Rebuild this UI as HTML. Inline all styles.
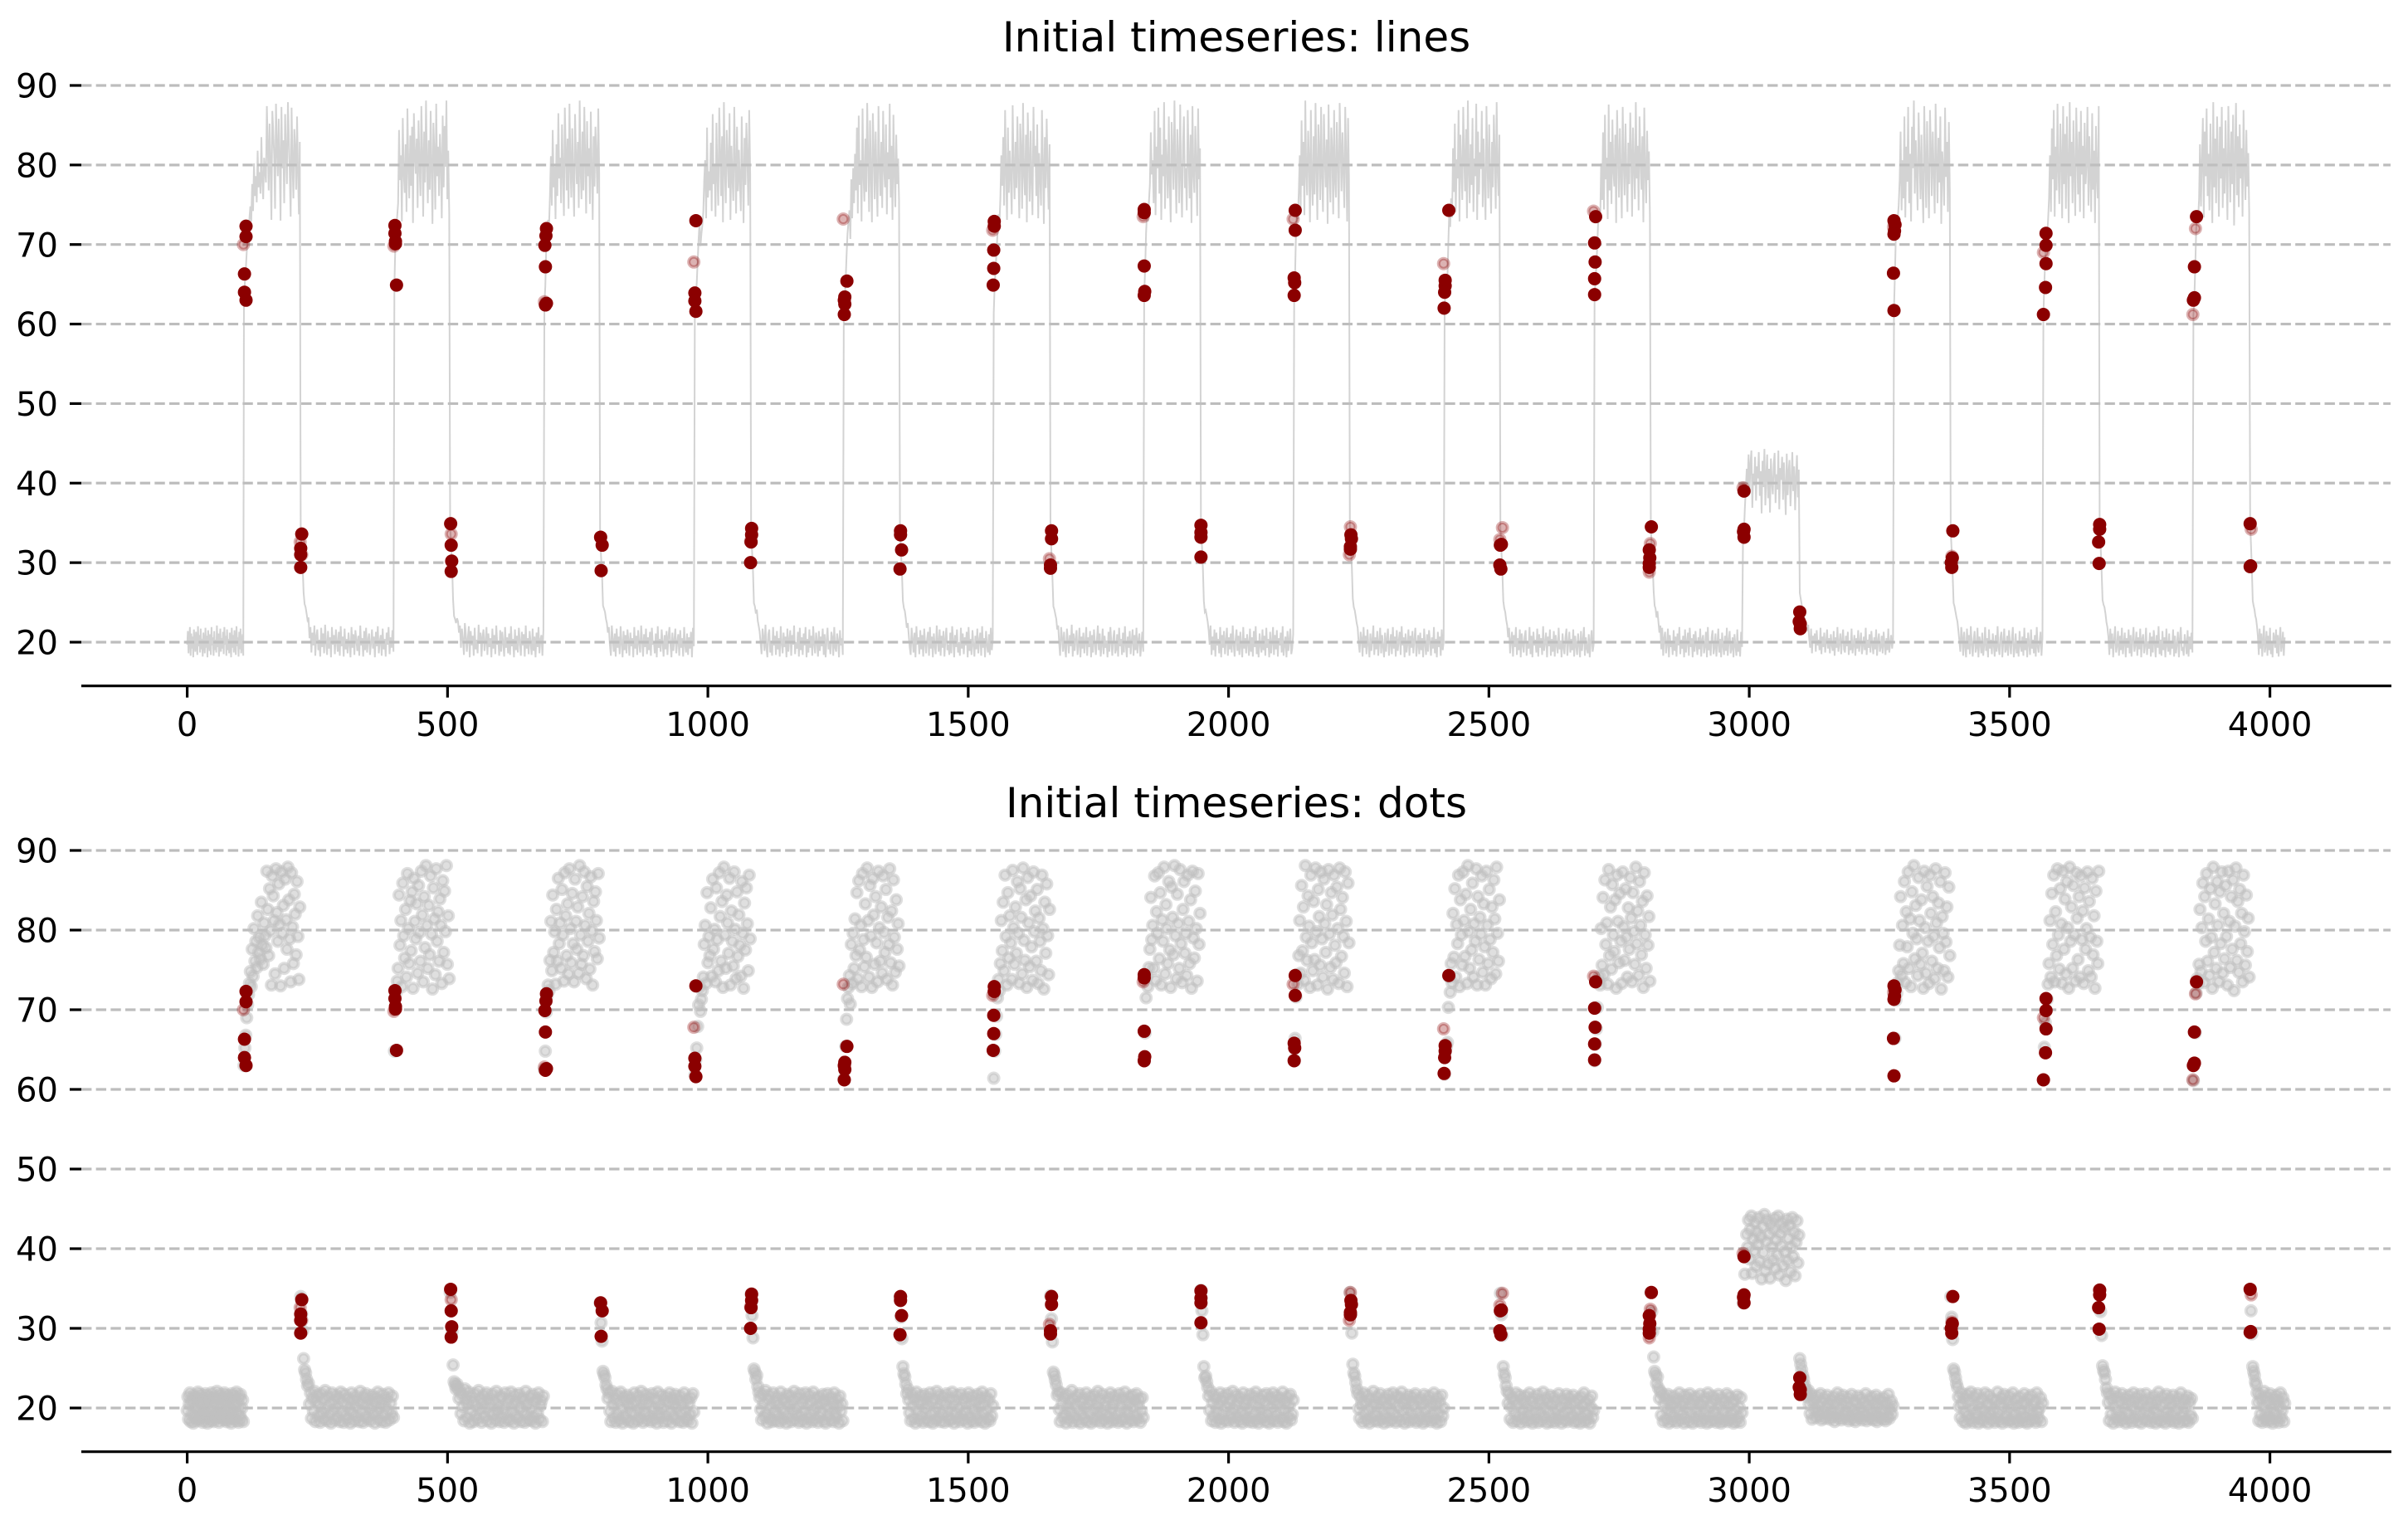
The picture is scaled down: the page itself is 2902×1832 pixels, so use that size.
<!DOCTYPE html>
<html lang="en">
<head>
<meta charset="utf-8">
<title>Initial timeseries</title>
<style>
html,body{margin:0;padding:0;background:#fff;}
svg{display:block;}
text{font-family:"DejaVu Sans","Liberation Sans",sans-serif;fill:#000;}
</style>
</head>
<body>
<svg id="chart" xmlns="http://www.w3.org/2000/svg" width="2902" height="1832" viewBox="0 0 2902 1832">
<rect x="0" y="0" width="2902" height="1832" fill="#ffffff"/>
<text x="1490" y="62" font-size="50" text-anchor="middle">Initial timeseries: lines</text>
<text x="1490" y="985" font-size="50" text-anchor="middle">Initial timeseries: dots</text>
<g id="panel-lines"></g>
<g id="panel-dots"></g>
</svg>
<script>
const xTickLabels=[0,500,1000,1500,2000,2500,3000,3500,4000];
const yTickLabels=[20,30,40,50,60,70,80,90];
const seriesEnd=4030;
const lowStarts=[0,218,505,793,1083,1369,1658,1947,2233,2522,2811,3097,3387,3673,3962];
const highStarts=[109,398,686,975,1261,1549,1838,2126,2415,2703,2988,3278,3565,3853];
/* sampled series values, stored in tenths of a unit */
const low0=[197,214,186,205,219,183,211,192,207,181,216,199,188,213,202,184,220,195,209,187,217,191,204,182,212,198,186,218,193,208,181,215,201,189,210,184,219,196,206,183,214,190,203,187,221,194,211,182,200,217,188,205,192,213,185,219,197,208,183,216,190,204,186,212,199,181,218,193,209,187,215,202,184,220,195,206,182,213,191,217,186,200,210,183];
const low1=[340,318,297,262,248,244,236,228,231,205,219,187,212,196,221,183,208,216,190,203,182,218,194,211,186,222,199,184,214,192,206,181,219,197,209,185,216,201,188,213,183,220,195,207,182,217,191,204,186,212,198,181,219,193,210,184,215,202,189,208,183,221,196,205,182,214,190,218,187,203,211,184,199,216,192,207,181,213,195,220,186,201,209,183,217,191,204,182,212,197,219,185,206,193,215,188];
const low2=[345,322,296,254,233,229,224,230,226,212,221,193,217,202,184,224,210,188,205,220,181,214,196,208,183,218,191,203,186,222,198,212,182,207,216,189,200,219,184,211,194,205,181,217,192,209,185,221,197,202,183,215,188,213,199,182,219,193,206,186,211,184,220,195,204,181,216,190,208,187,218,201,183,213,196,210,182,221,192,205,185,214,199,184,217,189,207,181,212,194,219,186,203,209,183,215];
const low3=[332,307,284,246,242,238,229,224,212,219,196,183,221,204,188,211,182,217,193,207,185,220,199,181,214,190,209,186,216,202,183,212,195,205,181,219,192,208,184,215,198,187,221,203,182,210,194,217,185,206,190,213,183,218,197,201,186,211,181,220,193,204,188,216,199,182,209,191,214,184,207,219,196,181,212,189,203,217,186,200,210,183,215,193,205,182,219,197,187,211,184,206,192,213,181,218,195];
const low4=[343,316,288,249,245,236,241,227,220,213,198,185,217,206,189,222,193,181,210,216,187,202,183,219,196,208,184,214,191,205,182,220,199,186,212,194,207,181,217,188,203,215,183,209,197,221,185,200,192,213,182,218,190,206,184,211,196,219,181,204,187,216,193,208,183,220,198,186,212,201,182,214,189,207,195,217,184,210,181,203,218,191,199,185,213,206,183,219,193,188,211,202,181,215,196,205,184];
const low5=[339,314,287,252,243,239,230,218,224,210,194,184,218,203,187,212,181,220,197,206,185,215,191,209,182,217,199,186,204,213,183,219,192,207,181,211,195,185,221,201,188,216,183,208,193,214,182,205,218,190,197,184,212,186,220,203,181,209,194,216,187,200,183,218,192,211,185,206,196,213,181,219,189,204,184,215,198,182,208,191,217,186,202,212,183,220,193,205,181,214,197,187,210,184,218,190,203];
const low6=[341,312,283,245,241,235,229,216,221,198,183,219,205,188,213,192,181,217,201,186,209,195,222,182,211,189,204,215,184,197,218,181,207,192,212,186,200,219,183,206,194,214,181,209,187,216,198,184,203,221,190,211,182,196,217,185,208,193,202,181,213,188,219,199,183,205,215,186,191,210,182,218,195,204,184,212,187,220,197,181,207,193,214,185,201,216,183,209,190,218,186,203,211,182,196,213,188];
const low7=[348,322,292,252,238,240,233,226,215,197,221,184,207,190,216,182,212,196,204,186,219,181,209,193,214,185,201,218,183,206,191,211,187,221,198,182,203,216,189,208,184,213,195,181,219,192,205,186,210,199,183,217,188,206,182,214,194,220,185,202,181,211,197,187,216,190,208,183,218,193,204,181,213,186,200,219,184,209,191,215,182,205,196,212,187,220,183,198,207,181,214,189,203,217,185,192,210];
const low8=[345,318,294,255,244,240,232,224,218,199,187,213,205,182,219,193,208,185,216,197,181,211,189,203,221,184,206,191,214,183,200,218,186,209,195,181,212,188,204,217,183,198,210,185,219,192,207,182,215,189,202,213,184,220,196,206,181,211,187,199,216,183,208,193,214,186,203,218,182,195,209,185,212,190,205,181,217,197,184,210,188,215,201,183,206,192,219,186,204,181,213,194,207,183,216,190,200];
const low9=[344,317,291,252,243,238,228,221,206,218,186,201,213,182,209,194,219,184,205,190,216,181,211,197,187,207,215,183,200,192,219,185,208,181,213,196,203,187,217,182,210,193,205,184,220,189,199,212,181,207,195,216,183,204,188,214,182,209,197,186,218,191,202,181,211,193,185,206,217,183,199,213,187,204,190,216,182,208,195,184,211,197,181,214,189,203,219,183,206,192,186,210,181,201,215,188,197];
const low10=[345,321,296,264,246,242,231,239,225,212,221,191,218,183,205,213,186,198,217,181,209,194,202,184,215,189,207,182,211,196,219,185,203,192,208,181,216,187,200,212,183,218,194,205,181,210,188,214,197,184,206,191,217,182,203,209,186,195,213,181,219,190,201,183,207,215,185,193,211,182,199,217,187,204,181,212,196,184,208,189,218,183,202,214,186,192,206,181,210,197,183,216,188,201,182,213,194];
const low11=[262,255,248,241,236,229,224,218,214,222,205,193,217,186,208,199,211,188,215,196,203,190,218,185,207,194,212,187,201,216,192,205,186,210,197,189,214,183,206,193,219,188,199,211,185,204,216,191,187,208,195,213,184,202,190,217,186,197,209,183,205,192,215,188,200,212,185,196,207,190,218,184,203,193,210,187,214,198,185,206,191,216,183,201,211,188,194,208,186,213,197,184,205,190,217,187,199,209,192,203];
const low12=[340,314,286,249,245,238,231,226,214,202,188,219,206,183,213,195,181,217,191,209,185,220,198,182,204,214,187,193,218,181,207,200,186,212,183,196,219,189,205,181,216,192,203,185,211,197,182,209,188,220,194,184,206,213,181,201,217,187,191,208,183,215,199,185,204,219,181,193,211,186,202,182,214,196,188,207,183,218,190,205,181,212,198,184,216,192,203,186,209,182,219,195,187,200,213,183,206];
const low13=[348,321,291,253,247,244,236,225,219,207,184,217,192,211,181,203,220,187,196,214,183,208,190,218,185,199,212,181,205,193,216,186,209,182,202,219,188,197,213,183,206,191,217,181,204,210,186,195,218,184,201,192,212,182,207,187,215,199,181,209,193,220,185,203,183,214,190,206,181,217,196,188,211,184,202,192,216,182,208,186,198,213,181,205,219,189,194,183,210,201,185,215,182,207,191,212,187];
const low14=[349,322,293,252,246,241,233,229,219,207,184,217,192,211,182,203,221,187,196,214,183,208,190,218,185,199,181,212,205,193,216,186,209,182,202,219,188,197,213,183,206];
const high0=[630,652,668,690,706,719,733,748,729,776,742,802,761,786,753,818,772,791,764,835,781,757,809,793,778,874,826,768,852,799,731,868,843,812,745,877,822,786,858,807,730,873,796,831,752,864,813,776,879,838,789,735,872,804,758,845,820,769,861,792,738,829];
const high1=[648,701,722,736,752,844,781,812,729,859,793,765,826,741,871,802,758,837,774,848,727,865,811,789,833,746,856,797,761,874,819,735,842,778,881,806,752,831,769,868,795,726,853,814,744,877,786,823,761,839,806,733,862,772,849,798,881,757,818,739];
const high2=[625,648,697,718,731,724,762,811,749,844,772,798,732,826,761,865,783,809,752,851,794,736,872,818,768,833,745,877,802,759,846,783,735,864,811,776,829,746,881,794,757,842,768,873,806,739,855,786,821,751,867,799,731,836,773,848,812,764,871,790];
const high3=[618,637,652,679,706,729,698,713,724,741,782,806,733,847,759,792,768,828,742,864,776,801,735,853,788,749,872,817,761,836,728,879,794,752,844,809,771,865,731,824,786,755,873,801,739,848,767,819,781,742,861,796,727,834,775,853,808,749,869,789];
const high4=[613,632,654,688,714,728,743,707,782,733,796,752,814,768,847,739,862,775,806,729,871,788,754,833,766,878,812,741,856,793,728,865,819,757,842,784,735,874,803,761,829,746,868,797,772,851,738,816,782,877,759,824,731,863,791,747,838,776,808,755];
const high5=[614,648,669,692,715,738,724,758,812,774,835,749,869,792,731,847,765,818,784,738,875,803,757,829,771,861,796,733,852,816,745,878,787,762,838,728,866,809,754,843,779,737,873,798,824,761,851,733,815,786,749,869,802,726,835,771,858,793,744,826];
const high6=[636,671,715,742,729,753,776,841,788,806,752,868,737,823,796,872,764,847,731,813,786,879,745,832,802,758,861,775,728,854,816,769,881,793,739,845,808,752,876,783,734,826,861,771,796,743,869,811,758,838,727,874,790,765,849,802,736,871,782,821];
const high7=[637,664,716,744,732,768,812,746,856,774,829,737,881,791,762,843,805,728,869,784,749,836,763,878,798,731,851,817,756,873,789,741,864,808,772,832,726,876,795,753,847,819,738,869,781,759,854,802,733,878,826,767,841,792,746,873,811,729,859,784];
const high8=[619,648,654,659,703,741,722,758,734,821,766,852,741,807,783,869,729,838,794,756,873,812,767,845,733,881,798,752,826,775,859,741,808,786,877,731,842,763,816,795,868,747,833,779,731,874,806,758,851,788,739,829,772,863,814,745,879,796,761,838];
const high9=[636,657,676,703,736,742,731,802,756,841,744,863,782,809,732,876,768,829,751,857,794,773,838,727,869,811,759,846,786,733,873,804,762,852,791,741,828,776,866,815,735,847,798,757,879,783,824,743,861,806,769,836,728,872,794,752,843,781,817,736];
const high10=[332,339,368,392,418,402,436,387,424,441,369,412,397,433,378,421,406,439,384,415,362,428,395,443,372,409,436,381,418,363,431,402,386,424,438,375,411,392,441,367,419,404,433,379,426,396,360,437,385,413,429,371,402,439,390,421,366,408,435,382,417];
const high11=[617,664,712,721,734,749,781,842,743,806,758,861,734,823,779,873,752,814,729,848,796,881,764,831,789,743,866,812,757,838,771,727,874,803,746,855,786,733,869,821,761,842,792,739,877,809,752,834,778,861,726,817,796,749,872,785,829,741,854,768];
const high12=[612,653,684,699,713,732,758,812,741,846,782,869,735,823,768,877,794,751,852,808,733,874,776,839,745,861,803,727,879,786,829,752,856,794,736,872,815,763,842,741,868,788,824,733,853,776,802,873,749,836,791,741,865,769,818,727,849,786,758,874];
const high13=[611,632,671,721,739,733,757,826,748,803,859,734,842,786,871,761,814,743,852,791,727,879,772,833,752,861,806,735,848,783,873,746,821,764,856,792,731,874,811,753,842,776,863,724,805,878,762,836,747,851,783,821,735,869,798,756,844,773,815,741];
const lowSeries=[low0,low1,low2,low3,low4,low5,low6,low7,low8,low9,low10,low11,low12,low13,low14];
const highSeries=[high0,high1,high2,high3,high4,high5,high6,high7,high8,high9,high10,high11,high12,high13];
const peakTimes=[113,113,110,110,113,220,218,218,218,399,399,400,400,402,506,507,508,507,690,689,687,688,688,690,794,797,795,977,975,975,977,1084,1084,1083,1082,1267,1263,1262,1263,1262,1370,1370,1372,1369,1550,1550,1549,1549,1548,1660,1660,1658,1658,1838,1838,1838,1839,1838,1947,1947,1947,1947,2128,2128,2126,2127,2126,2235,2236,2234,2234,2423,2416,2416,2415,2414,2524,2522,2521,2523,2705,2703,2704,2703,2703,2812,2808,2809,2808,2808,2990,2990,2989,2990,3097,3096,3098,3098,3278,3280,3279,3278,3277,3278,3391,3390,3388,3389,3570,3570,3570,3569,3565,3673,3673,3671,3672,3859,3855,3855,3853,3962,3963,3962];
const peakValues=[72.3,71,66.3,64,63,33.6,31.8,31,29.4,72.4,71.4,70.4,70.1,64.9,34.9,32.2,30.2,28.9,72,71.1,69.9,67.2,62.4,62.6,33.2,32.2,29,73,63.9,62.9,61.6,34.3,33.5,32.6,30,65.4,63.4,63,62.5,61.2,34,33.5,31.6,29.2,72.9,72.3,69.3,67,64.9,34,33,29.7,29.3,74.4,74,67.3,64.1,63.6,34.7,33.8,33.2,30.7,74.3,71.8,65.8,65.2,63.6,33.5,33,32,31.7,74.3,65.5,64.8,64,62,32.3,32.2,29.7,29.2,73.5,70.2,67.8,65.7,63.7,34.5,31.6,30.6,29.9,29.4,39,34.2,33.9,33.2,23.8,22.6,22.3,21.7,73,72.5,71.7,71.3,66.4,61.7,34,30.6,30,29.4,71.4,69.9,67.6,64.6,61.2,34.8,34.2,32.6,29.9,73.5,67.2,63.3,63,34.9,29.6,29.5];
const fadedTimes=[108,217,220,397,507,686,973,1082,1260,1547,1656,1836,2124,2234,2232,2413,2526,2521,2701,2810,2808,2988,3277,3389,3565,3857,3852,3964];
const fadedValues=[70,32.6,31,69.8,33.6,62.8,67.8,32.7,73.2,71.8,30.5,73.5,73.2,34.5,31,67.6,34.4,32.9,74.2,32.4,28.8,39.4,72.2,30.8,69,72,61.2,34.2];

const PANEL_LINES={id:'panel-lines',zero:774,unit:9.586,spine:826.7,label:887,prefix:'lines'};
const PANEL_DOTS={id:'panel-dots',zero:1697,unit:9.6,spine:1749.7,label:1810,prefix:'dots'};
const SVG_NS='http://www.w3.org/2000/svg';
function xScale(t){return 225.6+t*0.6275;}
function yScale(panel,v){return panel.zero-(v-20)*panel.unit;}
function make(tag,parent,props){
  const el=document.createElementNS(SVG_NS,tag);
  for(const k in props){el.setAttribute(k,props[k]);}
  parent.appendChild(el);
  return el;
}
function addBlock(pts,values,t0,t1){
  const step=(t1-t0)/values.length;
  values.forEach(function(v,j){pts.push([t0+j*step,v/10]);});
}
function seriesPoints(){
  const pts=[];
  for(let i=0;i<lowSeries.length;i++){
    const lowEnd=i<highStarts.length?highStarts[i]:seriesEnd;
    addBlock(pts,lowSeries[i],lowStarts[i],lowEnd);
    if(i<highSeries.length){
      addBlock(pts,highSeries[i],highStarts[i],lowStarts[i+1]);
    }
  }
  return pts;
}
function drawGrid(panel,root){
  yTickLabels.forEach(function(v){
    const y=yScale(panel,v);
    const line=make('line',root,{x1:98,x2:2881,y1:y,y2:y,stroke:'#bdbdbd','stroke-width':3.2,'stroke-dasharray':'12.4 5.27'});
    
    
  });
}
function drawAxes(panel,root){
  const spine=make('line',root,{x1:98,x2:2882,y1:panel.spine,y2:panel.spine,stroke:'#000','stroke-width':3.2});
  
  
  xTickLabels.forEach(function(v){
    const x=xScale(v);
    const tick=make('line',root,{x1:x,x2:x,y1:panel.spine,y2:panel.spine+14,stroke:'#000','stroke-width':3.2});
    
    
    const label=make('text',root,{x:x,y:panel.label,'font-size':40,'text-anchor':'middle'});
    label.textContent=String(v);
    
    
  });
  yTickLabels.forEach(function(v){
    const y=yScale(panel,v);
    const tick=make('line',root,{x1:84,x2:98,y1:y,y2:y,stroke:'#000','stroke-width':3.2});
    
    
    const label=make('text',root,{x:70,y:y+14.6,'font-size':40,'text-anchor':'end'});
    label.textContent=String(v);
    
    
  });
}
function drawPeaks(panel,root){
  fadedTimes.forEach(function(t,i){
    const c=make('circle',root,{cx:xScale(t),cy:yScale(panel,fadedValues[i]),r:6,fill:'#8b0000','fill-opacity':0.3,stroke:'#8b0000','stroke-opacity':0.3,'stroke-width':4});
    
    
  });
  peakTimes.forEach(function(t,i){
    const c=make('circle',root,{cx:xScale(t),cy:yScale(panel,peakValues[i]),r:8,fill:'#8b0000'});
    
    
  });
}
const allPoints=seriesPoints();
const linesRoot=document.getElementById(PANEL_LINES.id);
drawGrid(PANEL_LINES,linesRoot);
const seriesLine=make('polyline',linesRoot,{fill:'none',stroke:'#c0c0c0','stroke-opacity':0.7,'stroke-width':2,'stroke-linejoin':'miter',points:allPoints.map(function(p){return xScale(p[0]).toFixed(1)+','+yScale(PANEL_LINES,p[1]).toFixed(1);}).join(' ')});


drawAxes(PANEL_LINES,linesRoot);
drawPeaks(PANEL_LINES,linesRoot);
const dotsRoot=document.getElementById(PANEL_DOTS.id);
drawGrid(PANEL_DOTS,dotsRoot);
allPoints.forEach(function(p){
  const dot=make('circle',dotsRoot,{cx:xScale(p[0]),cy:yScale(PANEL_DOTS,p[1]),r:6,fill:'#c0c0c0','fill-opacity':0.5,stroke:'#c0c0c0','stroke-opacity':0.5,'stroke-width':4});
  
  
});
drawAxes(PANEL_DOTS,dotsRoot);
drawPeaks(PANEL_DOTS,dotsRoot);
</script>
</body>
</html>
